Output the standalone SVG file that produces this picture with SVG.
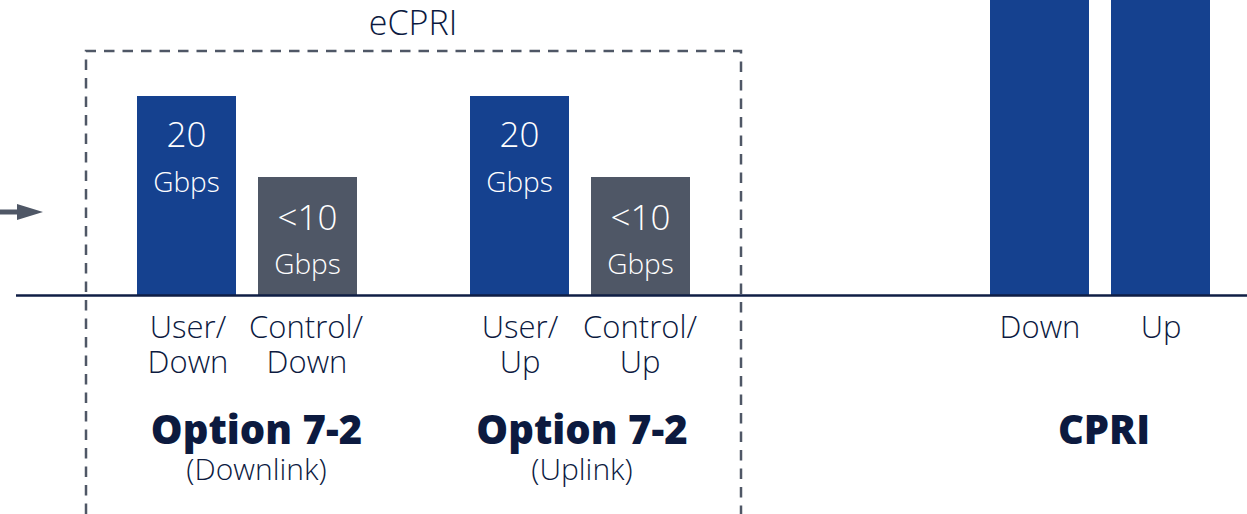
<svg xmlns="http://www.w3.org/2000/svg" width="1247" height="514" viewBox="0 0 1247 514">
  <style>
    .bar-blue { fill: #15418f; }
    .bar-grey { fill: #4f5766; }
    .val { font-family: "Open Sans", "Noto Sans", sans-serif; font-weight: 300; fill: #ffffff; text-anchor: middle; }
    .lbl { font-family: "Open Sans", "Noto Sans", sans-serif; font-weight: 300; fill: #0c1a3f; text-anchor: middle; font-size: 31px; }
    .head { font-family: "Open Sans", "Noto Sans", sans-serif; font-weight: 800; fill: #0c1a3f; text-anchor: middle; font-size: 40px; }
    .sub { font-family: "Open Sans", "Noto Sans", sans-serif; font-weight: 300; fill: #0c1a3f; text-anchor: middle; font-size: 30px; }
  </style>

  <rect width="1247" height="514" fill="#ffffff"/>

  <!-- eCPRI group frame -->
  <g id="ecpri-frame">
    <path d="M86,514 V51 H741 V514" fill="none" stroke="#4f5766" stroke-width="2.5" stroke-dasharray="10.5 8"/>
    <text x="413" y="35" class="lbl" style="font-size:34px">eCPRI</text>
  </g>

  <!-- bars -->
  <g id="opt72-dl-user">
    <rect class="bar-blue" x="137" y="96" width="99" height="200"/>
    <text class="val" x="186.5" y="147" font-size="35">20</text>
    <text class="val" x="186.5" y="192" font-size="28">Gbps</text>
    <text class="lbl" x="188" y="338">User/</text>
    <text class="lbl" x="188" y="373">Down</text>
  </g>
  <g id="opt72-dl-control">
    <rect class="bar-grey" x="258" y="177" width="99" height="119"/>
    <text class="val" x="307.5" y="230" font-size="35">&lt;10</text>
    <text class="val" x="307.5" y="274" font-size="28">Gbps</text>
    <text class="lbl" x="306" y="338">Control/</text>
    <text class="lbl" x="307" y="373">Down</text>
  </g>
  <g id="opt72-ul-user">
    <rect class="bar-blue" x="470" y="96" width="99" height="200"/>
    <text class="val" x="519.5" y="147" font-size="35">20</text>
    <text class="val" x="519.5" y="192" font-size="28">Gbps</text>
    <text class="lbl" x="520" y="338">User/</text>
    <text class="lbl" x="520" y="373">Up</text>
  </g>
  <g id="opt72-ul-control">
    <rect class="bar-grey" x="591" y="177" width="99" height="119"/>
    <text class="val" x="640.5" y="230" font-size="35">&lt;10</text>
    <text class="val" x="640.5" y="274" font-size="28">Gbps</text>
    <text class="lbl" x="640" y="338">Control/</text>
    <text class="lbl" x="640" y="373">Up</text>
  </g>
  <g id="cpri-down">
    <rect class="bar-blue" x="990" y="0" width="99" height="296"/>
    <text class="lbl" x="1040" y="338">Down</text>
  </g>
  <g id="cpri-up">
    <rect class="bar-blue" x="1111" y="0" width="99" height="296"/>
    <text class="lbl" x="1161" y="338">Up</text>
  </g>

  <!-- group titles -->
  <g id="title-dl">
    <text class="head" x="256.5" y="444">Option 7-2</text>
    <text class="sub" x="256.5" y="480">(Downlink)</text>
  </g>
  <g id="title-ul">
    <text class="head" x="582" y="444">Option 7-2</text>
    <text class="sub" x="582" y="480">(Uplink)</text>
  </g>
  <g id="title-cpri">
    <text class="head" x="1104" y="444">CPRI</text>
  </g>

  <!-- connectors: axis line and incoming arrow -->
  <g id="connectors">
    <line x1="16" y1="295.5" x2="1247" y2="295.5" stroke="#0f1e45" stroke-width="2.5"/>
    <line x1="0" y1="212" x2="19" y2="212" stroke="#4f5766" stroke-width="5"/>
    <polygon points="17,204 43,212 17,220" fill="#4f5766"/>
  </g>
</svg>
